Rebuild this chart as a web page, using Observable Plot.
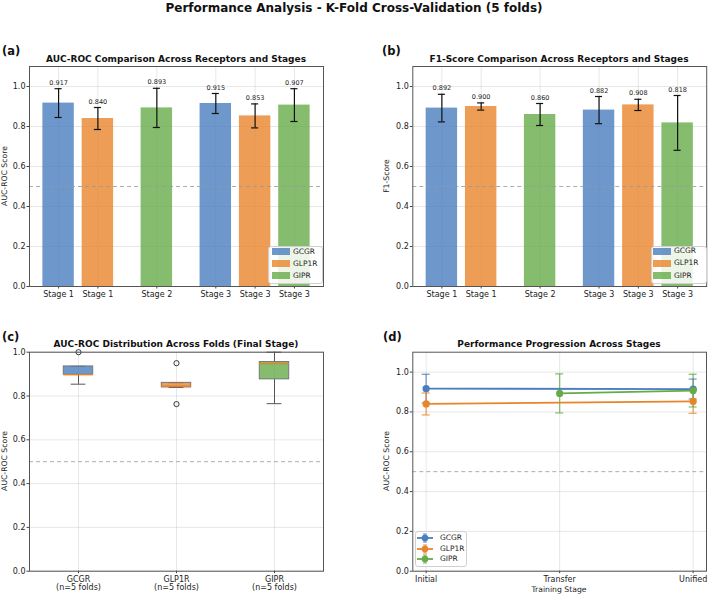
<!DOCTYPE html>
<html><head><meta charset="utf-8">
<script src="https://cdn.jsdelivr.net/npm/d3@7"></script>
<script src="https://cdn.jsdelivr.net/npm/@observablehq/plot@0.6"></script>
<style>
body{margin:0;background:#fff;font-family:"DejaVu Sans",sans-serif;}
#wrap{position:relative;width:708px;height:595px;overflow:hidden;background:#fff;}
.abs{position:absolute;white-space:nowrap;color:#111;line-height:1;}
.c{transform:translate(-50%,-50%);}
.rot{transform:translate(-50%,-50%) rotate(-90deg);}
.panel{position:absolute;}
.leg{position:absolute;border:1px solid #d0d0d0;border-radius:3px;background:rgba(255,255,255,0.85);box-sizing:border-box;}
.leg div{position:absolute;font-size:7.5px;color:#222;line-height:1;transform:translateY(-50%);}
</style></head><body><div id="wrap"></div>
<script>
// ---------- data ----------
const receptors = ["GCGR", "GLP1R", "GIPR"];
const colors = ["#4a7ebf", "#e8852c", "#66ab4a"];
const barReceptors = ["GCGR", "GLP1R", "GIPR", "GCGR", "GLP1R", "GIPR"];
const barStages = ["Stage 1", "Stage 1", "Stage 2", "Stage 3", "Stage 3", "Stage 3"];
const aucMean = [0.917, 0.840, 0.893, 0.915, 0.853, 0.907];
const aucStd = [0.072, 0.055, 0.098, 0.050, 0.060, 0.082];
const f1Mean = [0.892, 0.900, 0.860, 0.882, 0.908, 0.818];
const f1Std = [0.069, 0.018, 0.055, 0.068, 0.028, 0.137];
const foldGCGR = [0.854, 0.897, 0.897, 0.935, 1.000];
const foldGLP1R = [0.763, 0.839, 0.845, 0.860, 0.950];
const foldGIPR = [0.765, 0.876, 0.948, 0.955, 1.000];
const yTicks = [0, 0.2, 0.4, 0.6, 0.8, 1.0];
const stageNames = ["Initial", "Transfer", "Unified"];
const progReceptor = ["GCGR", "GCGR", "GLP1R", "GLP1R", "GIPR", "GIPR"];
const progStage = ["Initial", "Unified", "Initial", "Unified", "Transfer", "Unified"];
const progMean = [0.917, 0.915, 0.840, 0.853, 0.893, 0.907];
const progStd = [0.072, 0.050, 0.055, 0.060, 0.098, 0.082];

// ---------- layout helpers ----------
const wrap = document.getElementById("wrap");
function addText(txt, x, y, css, cls) {
  const d = document.createElement("div");
  d.className = "abs " + (cls || "c");
  d.textContent = txt;
  d.style.left = x + "px"; d.style.top = y + "px";
  Object.assign(d.style, css || {});
  wrap.appendChild(d);
}
function place(node, x, y) {
  node.style.position = "absolute";
  node.style.left = x + "px"; node.style.top = y + "px";
  wrap.appendChild(node);
}
const colorScale = {domain: receptors, range: colors};
const baseStyle = {fontFamily: "DejaVu Sans", fontSize: "8px", color: "#222", background: "transparent", overflow: "visible"};
const gridStyle = {stroke: "#bbb", strokeOpacity: 0.45, strokeWidth: 0.8};

// bar positions: gap of 0.5 between stage groups
const barPos = [];
{ let p = 0; barStages.forEach((s, i) => { if (i > 0 && s !== barStages[i - 1]) p += 0.5; barPos.push(p); p += 1; }); }

function barChart(mean, std, ml, mr) {
  const data = barReceptors.map((r, i) => ({r, pos: barPos[i], v: mean[i], e: std[i]}));
  const half = 0.4, cap = 0.09;
  return Plot.plot({
    width: 354, height: 270, marginLeft: ml, marginRight: mr, marginTop: 26, marginBottom: 24,
    style: baseStyle,
    x: {domain: [-0.74, 6.74]},
    y: {domain: [0, 1.1]},
    color: colorScale,
    marks: [
      Plot.gridY({ticks: yTicks, ...gridStyle}),
      Plot.gridX({ticks: barPos, ...gridStyle}),
      Plot.rectY(data, {x1: d => d.pos - half, x2: d => d.pos + half, y: "v", fill: "r", fillOpacity: 0.8}),
      Plot.ruleY([0.5], {stroke: "#999", strokeOpacity: 0.8, strokeDasharray: "4,3", strokeWidth: 1}),
      Plot.ruleX(data, {x: "pos", y1: d => d.v - d.e, y2: d => d.v + d.e, stroke: "#111", strokeWidth: 1.2}),
      Plot.ruleY(data, {y: d => d.v + d.e, x1: d => d.pos - cap, x2: d => d.pos + cap, stroke: "#111", strokeWidth: 1.2}),
      Plot.ruleY(data, {y: d => d.v - d.e, x1: d => d.pos - cap, x2: d => d.pos + cap, stroke: "#111", strokeWidth: 1.2}),
      Plot.text(data, {x: "pos", y: d => d.v + d.e, text: d => d.v.toFixed(3), dy: -4, lineAnchor: "bottom", fontSize: 6.5, fill: "#222"}),
      Plot.axisY({ticks: yTicks, tickFormat: d3.format(".1f"), tickSize: 2.5, tickPadding: 1.5, label: null, stroke: "#444"}),
      Plot.axisX({ticks: barPos, tickFormat: d => barStages[barPos.indexOf(d)], tickSize: 2.5, tickPadding: 2.5, label: null, stroke: "#444"}),
      Plot.frame({stroke: "#555", strokeWidth: 1})
    ]
  });
}

function patchLegend(x, y, w, h, patchX, patchW, textX, rows) {
  const L = document.createElement("div");
  L.className = "leg";
  Object.assign(L.style, {left: x + "px", top: y + "px", width: w + "px", height: h + "px"});
  receptors.forEach((r, i) => {
    const p = document.createElement("span");
    Object.assign(p.style, {position: "absolute", left: (patchX - x - 1) + "px", top: (rows[i] - y - 1 - 3.5) + "px", width: patchW + "px", height: "7px", background: colors[i], opacity: 0.8});
    L.appendChild(p);
    const t = document.createElement("div");
    t.textContent = r;
    t.style.left = (textX - x - 1) + "px"; t.style.top = (rows[i] - y - 1) + "px";
    L.appendChild(t);
  });
  wrap.appendChild(L);
}

const panelTitle = {fontWeight: "bold", fontSize: "9px"};
const tag = {fontWeight: "bold", fontSize: "11.5px", transform: "translateY(-50%)"};
const axLabel = {fontSize: "7.7px", color: "#222"};

// ---------- title ----------
addText("Performance Analysis - K-Fold Cross-Validation (5 folds)", 354, 8, {fontWeight: "bold", fontSize: "12px"});

// ---------- (a) ----------
place(barChart(aucMean, aucStd, 29, 31), 0, 40);
addText("(a)", 2, 52, tag, "abs");
addText("AUC-ROC Comparison Across Receptors and Stages", 176, 59, panelTitle);
addText("AUC-ROC Score", 4.5, 176, axLabel, "rot");
patchLegend(268, 246, 55, 38, 272, 18, 293, [251.7, 263.5, 275.7]);

// ---------- (b) ----------
place(barChart(f1Mean, f1Std, 58.3, 1.8), 354, 40);
addText("(b)", 382, 52, tag, "abs");
addText("F1-Score Comparison Across Receptors and Stages", 559, 59, panelTitle);
addText("F1-Score", 387.3, 176, axLabel, "rot");
patchLegend(650.5, 246, 56, 38, 652.5, 18.5, 674, [251.2, 263.3, 275.7]);

// ---------- (c) ----------
const folds = [foldGCGR, foldGLP1R, foldGIPR];
const boxes = receptors.map((r, i) => {
  const v = folds[i].slice().sort(d3.ascending);
  const q1 = d3.quantile(v, 0.25), med = d3.quantile(v, 0.5), q3 = d3.quantile(v, 0.75), iqr = q3 - q1;
  const lo = d3.min(v.filter(x => x >= q1 - 1.5 * iqr)), hi = d3.max(v.filter(x => x <= q3 + 1.5 * iqr));
  return {r, pos: i + 1, q1, med, q3, lo, hi, out: v.filter(x => x < lo || x > hi)};
});
const outliers = boxes.flatMap(b => b.out.map(v => ({pos: b.pos, v})));
const bw = 0.15, cw = 0.075;
const boxPlot = Plot.plot({
  width: 354, height: 290, marginLeft: 29, marginRight: 31, marginTop: 46.7, marginBottom: 24.3,
  style: baseStyle,
  x: {domain: [0.5, 3.5]},
  y: {domain: [0, 1]},
  color: colorScale,
  marks: [
    Plot.gridY({ticks: yTicks, ...gridStyle}),
    Plot.gridX({ticks: [1, 2, 3], ...gridStyle}),
    Plot.ruleY([0.5], {stroke: "#999", strokeOpacity: 0.8, strokeDasharray: "4,3", strokeWidth: 1}),
    Plot.ruleX(boxes, {x: "pos", y1: "q3", y2: "hi", stroke: "#555", strokeWidth: 1}),
    Plot.ruleX(boxes, {x: "pos", y1: "lo", y2: "q1", stroke: "#555", strokeWidth: 1}),
    Plot.ruleY(boxes, {y: "hi", x1: d => d.pos - cw, x2: d => d.pos + cw, stroke: "#555", strokeWidth: 1}),
    Plot.ruleY(boxes, {y: "lo", x1: d => d.pos - cw, x2: d => d.pos + cw, stroke: "#555", strokeWidth: 1}),
    Plot.rect(boxes, {x1: d => d.pos - bw, x2: d => d.pos + bw, y1: "q1", y2: "q3", fill: "r", fillOpacity: 0.8, stroke: "#777", strokeWidth: 1}),
    Plot.ruleY(boxes, {y: "med", x1: d => d.pos - bw, x2: d => d.pos + bw, stroke: "#f07f1f", strokeWidth: 1.3}),
    Plot.dot(outliers, {x: "pos", y: "v", r: 2.6, stroke: "#222", strokeWidth: 0.9, fill: "none"}),
    Plot.axisY({ticks: yTicks, tickFormat: d3.format(".1f"), tickSize: 2.5, tickPadding: 1.5, label: null, stroke: "#444"}),
    Plot.axisX({ticks: [1, 2, 3], tickFormat: d => receptors[d - 1] + "\n(n=5 folds)", tickSize: 2.5, tickPadding: 2.5, label: null, stroke: "#444"}),
    Plot.frame({stroke: "#555", strokeWidth: 1})
  ]
});
place(boxPlot, 0, 305);
addText("(c)", 2, 337.5, tag, "abs");
addText("AUC-ROC Distribution Across Folds (Final Stage)", 176, 344, panelTitle);
addText("AUC-ROC Score", 4.5, 461, axLabel, "rot");

// ---------- (d) ----------
const prog = progReceptor.map((r, i) => ({r, xi: stageNames.indexOf(progStage[i]), v: progMean[i], e: progStd[i]}));
const pc = 0.03;
const lineChart = Plot.plot({
  width: 354, height: 290, marginLeft: 58.3, marginRight: 2, marginTop: 46.7, marginBottom: 24.3,
  style: baseStyle,
  x: {domain: [-0.1, 2.1]},
  y: {domain: [0, 1.1]},
  color: colorScale,
  marks: [
    Plot.gridY({ticks: yTicks, ...gridStyle}),
    Plot.gridX({ticks: [0, 1, 2], ...gridStyle}),
    Plot.ruleY([0.5], {stroke: "#999", strokeOpacity: 0.8, strokeDasharray: "4,3", strokeWidth: 1}),
    Plot.ruleX(prog, {x: "xi", y1: d => d.v - d.e, y2: d => d.v + d.e, stroke: "r", strokeOpacity: 0.75, strokeWidth: 1.3}),
    Plot.ruleY(prog, {y: d => d.v + d.e, x1: d => d.xi - pc, x2: d => d.xi + pc, stroke: "r", strokeOpacity: 0.75, strokeWidth: 1.3}),
    Plot.ruleY(prog, {y: d => d.v - d.e, x1: d => d.xi - pc, x2: d => d.xi + pc, stroke: "r", strokeOpacity: 0.75, strokeWidth: 1.3}),
    Plot.line(prog, {x: "xi", y: "v", stroke: "r", z: "r", strokeWidth: 1.8}),
    Plot.dot(prog, {x: "xi", y: "v", fill: "r", r: 3.6}),
    Plot.axisY({ticks: yTicks, tickFormat: d3.format(".1f"), tickSize: 2.5, tickPadding: 1.5, label: null, stroke: "#444"}),
    Plot.axisX({ticks: [0, 1, 2], tickFormat: d => stageNames[d], tickSize: 2.5, tickPadding: 2.5, label: null, stroke: "#444"}),
    Plot.frame({stroke: "#555", strokeWidth: 1})
  ]
});
place(lineChart, 354, 305);
addText("(d)", 383, 337.5, tag, "abs");
addText("Performance Progression Across Stages", 559, 344, panelTitle);
addText("AUC-ROC Score", 387.3, 461, axLabel, "rot");
addText("Training Stage", 559, 590, axLabel);

// legend (d)
{
  const L = document.createElement("div");
  L.className = "leg";
  Object.assign(L.style, {left: "414.7px", top: "531px", width: "52px", height: "36px"});
  const rows = [537.7, 548.5, 559];
  receptors.forEach((r, i) => {
    const ns = "http://www.w3.org/2000/svg";
    const s = document.createElementNS(ns, "svg");
    s.setAttribute("width", 18); s.setAttribute("height", 10);
    Object.assign(s.style, {position: "absolute", left: (417 - 414.7 - 1) + "px", top: (rows[i] - 531 - 1 - 5) + "px", overflow: "visible"});
    s.innerHTML = `<line x1="0" x2="16" y1="5" y2="5" stroke="${colors[i]}" stroke-width="1.8"/>` +
      `<line x1="8" x2="8" y1="1" y2="9" stroke="${colors[i]}" stroke-opacity="0.75" stroke-width="1.2"/>` +
      `<line x1="6" x2="10" y1="1" y2="1" stroke="${colors[i]}" stroke-opacity="0.75" stroke-width="1.2"/>` +
      `<line x1="6" x2="10" y1="9" y2="9" stroke="${colors[i]}" stroke-opacity="0.75" stroke-width="1.2"/>` +
      `<circle cx="8" cy="5" r="3.3" fill="${colors[i]}"/>`;
    L.appendChild(s);
    const t = document.createElement("div");
    t.textContent = r;
    t.style.left = (440 - 414.7 - 1) + "px"; t.style.top = (rows[i] - 531 - 1) + "px";
    L.appendChild(t);
  });
  wrap.appendChild(L);
}
</script></body></html>
